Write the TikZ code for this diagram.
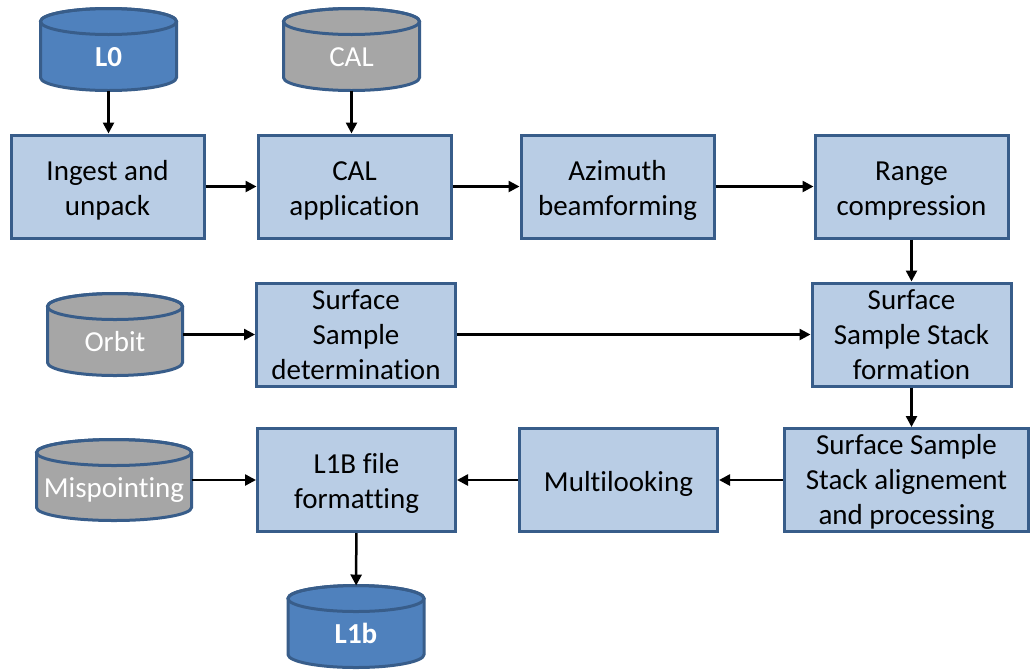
\documentclass[tikz,border=0pt]{standalone}
\usepackage{fontspec}
\setmainfont{Carlito}[Ligatures=NoCommon]
\usetikzlibrary{arrows.meta, positioning, calc, backgrounds}
\definecolor{BoxBlue}{HTML}{B9CDE5}
\definecolor{EdgeBlue}{HTML}{385D8A}
\definecolor{DataBlue}{HTML}{4F81BD}
\definecolor{DataGray}{HTML}{A6A6A6}
\tikzset{
  stepbox/.style={draw=EdgeBlue, line width=3pt, fill=BoxBlue, align=center, minimum width=193pt, minimum height=103pt, inner sep=2pt, font=\fontsize{29}{35}\selectfont, text height=30.5pt, text depth=7.8pt},
  twolines/.style={text height=65.5pt},
  threelines/.style={text height=95pt, text depth=6pt, inner ysep=1pt},
  datastore/.style={draw=none, outer sep=0pt, inner sep=0pt, text=white, minimum width=136pt, minimum height=82pt, text height=34pt, text depth=0pt, font=\fontsize{29}{35}\selectfont},
  bluedata/.style={datastore, font=\fontsize{29}{35}\selectfont\bfseries},
  graydata/.style={datastore},
  storeline/.style={draw=EdgeBlue, line width=3pt},
  arrow/.style={-{Triangle[length=11pt, width=11pt]}, line width=2.5pt, draw=black}
}
% cylinder drawn behind a named node
\newcommand{\drawstore}[2]{%
  \begin{scope}[on background layer]
  \filldraw[storeline, fill=#2] let \p1=(#1.west), \p2=(#1.east), \n1={(\x2-\x1)/2} in
    ([yshift=-13pt]#1.north west) -- ([yshift=13pt]#1.south west)
    arc[start angle=180, end angle=360, x radius=\n1, y radius=13pt]
    -- ([yshift=-13pt]#1.north east)
    arc[start angle=0, end angle=180, x radius=\n1, y radius=13pt] -- cycle;
  \draw[storeline] let \p1=(#1.west), \p2=(#1.east), \n1={(\x2-\x1)/2} in
    ([yshift=-13pt]#1.north) ellipse[x radius=\n1, y radius=13pt];
  \end{scope}}
\begin{document}
\begin{tikzpicture}[x=1pt, y=-1pt]
\useasboundingbox (0,0) rectangle (1032,670);
\begin{scope}[on background layer]
\fill[white] (0,0) rectangle (1032,670);
\end{scope}

% first row
\node[stepbox, twolines] (ingest) at (107.5,186.5) {Ingest and\\unpack};
\node[stepbox, twolines, right=51pt of ingest] (calapp) {CAL\\application};
\node[stepbox, twolines, right=67pt of calapp] (azimuth) {Azimuth\\beamforming};
\node[stepbox, twolines, right=98pt of azimuth] (range) {Range\\compression};

\node[bluedata] (l0) at (108.5,49.5) {L0};
\node[graydata] (caldata) at (351.5,49.5) {CAL};

% second row
\node[stepbox, threelines, minimum width=199pt, below=42pt of range] (sssform) {Surface\\Sample Stack\\formation};
\node[stepbox, threelines, minimum width=199pt] (ssdet) at (356,334.5) {Surface\\Sample\\determination};
\node[graydata, minimum width=135pt] (orbit) at (115,334.5) {Orbit};

% third row
\node[stepbox, threelines, minimum width=244pt] (sssalign) at (906.5,480) {Surface Sample\\Stack alignement\\and processing};
\node[stepbox, minimum width=198pt, left=64pt of sssalign] (multi) {Multilooking};
\node[stepbox, twolines, minimum width=198pt, left=61pt of multi] (l1bfmt) {L1B file\\formatting};
\node[graydata, minimum width=155pt, minimum height=81pt] (misp) at (114,480) {Mispointing};

\node[bluedata] (l1b) at (356,626.5) {L1b};

\drawstore{l0}{DataBlue}
\drawstore{caldata}{DataGray}
\drawstore{orbit}{DataGray}
\drawstore{misp}{DataGray}
\drawstore{l1b}{DataBlue}

\draw[arrow] (l0.south) -- (l0.south |- ingest.north);
\draw[arrow] (caldata.south) -- (caldata.south |- calapp.north);
\draw[arrow] (ingest) -- (calapp);
\draw[arrow] (calapp) -- (azimuth);
\draw[arrow] (azimuth) -- (range);
\draw[arrow] (range) -- (sssform);
\draw[arrow] (orbit) -- (ssdet);
\draw[arrow] (ssdet) -- (sssform);
\draw[arrow] (sssform.south) -- (sssform.south |- sssalign.north);
\draw[arrow] (sssalign) -- (multi);
\draw[arrow] (multi) -- (l1bfmt);
\draw[arrow] (misp) -- (l1bfmt);
\draw[arrow] (l1bfmt) -- (l1b);
\end{tikzpicture}
\end{document}
